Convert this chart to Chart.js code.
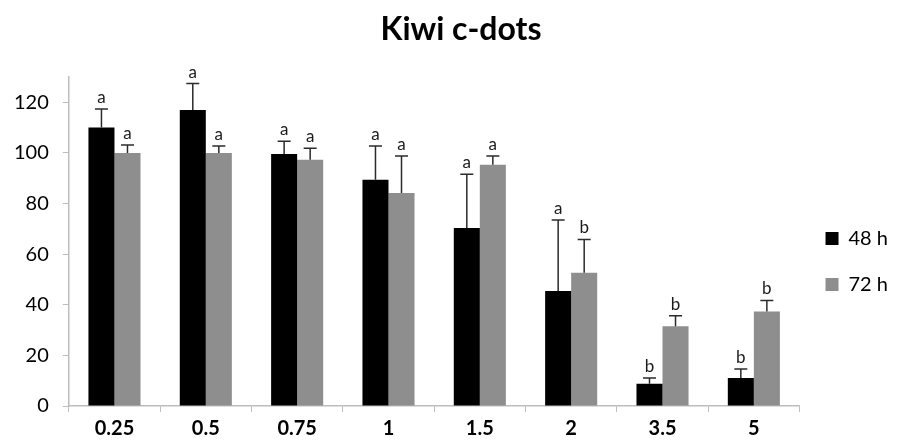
<!DOCTYPE html>
<html>
<head>
<meta charset="utf-8">
<script src="https://cdn.jsdelivr.net/npm/chart.js@4"></script>
<style>
  body { margin: 0; background: #fff; }
  #wrap { width: 898px; height: 446px; }
</style>
</head>
<body>
<div id="wrap"><canvas id="kiwi"></canvas></div>
<script>
// concentrations (x axis)
var doses = ["0.25", "0.5", "0.75", "1", "1.5", "2", "3.5", "5"];

// means
var h48 = [110, 117, 99.6, 89.4, 70.3, 45.4, 8.8, 11.1];
var h72 = [100, 100, 97.3, 84.2, 95.3, 52.7, 31.5, 37.3];

// upper error (sd)
var err48 = [7.4, 10.4, 5.0, 13.3, 21.3, 28.1, 2.3, 3.5];
var err72 = [3.1, 2.7, 4.5, 14.6, 3.5, 13.1, 4.2, 4.4];

// significance letters
var let48 = ["a", "a", "a", "a", "a", "a", "b", "b"];
var let72 = ["a", "a", "a", "a", "a", "b", "b", "b"];

var yTicks = [0, 20, 40, 60, 80, 100, 120];

var FONT = "Lato, 'Open Sans', sans-serif";

// error bars + letters
var errorBars = {
  id: "errorBars",
  afterDatasetsDraw: function (chart) {
    var ctx = chart.ctx;
    var y = chart.scales.y;
    var errs = [err48, err72];
    var lets = [let48, let72];
    ctx.save();
    for (var d = 0; d < 2; d++) {
      var meta = chart.getDatasetMeta(d);
      var vals = chart.data.datasets[d].data;
      meta.data.forEach(function (bar, i) {
        var x = bar.x;
        var top = y.getPixelForValue(vals[i]);
        var up = y.getPixelForValue(vals[i] + errs[d][i]);
        ctx.strokeStyle = "#2b2b2b";
        ctx.lineWidth = 1.5;
        ctx.beginPath();
        ctx.moveTo(x, top);
        ctx.lineTo(x, up);
        ctx.moveTo(x - 6.5, up);
        ctx.lineTo(x + 6.5, up);
        ctx.stroke();
        ctx.fillStyle = "#1a1a1a";
        ctx.font = "17px " + FONT;
        ctx.textAlign = "center";
        ctx.textBaseline = "bottom";
        ctx.fillText(lets[d][i], x, up - 3);
      });
    }
    ctx.restore();
  }
};

// title drawn a bit right of canvas centre like the original
var titlePlugin = {
  id: "titlePlugin",
  afterDraw: function (chart) {
    var ctx = chart.ctx;
    ctx.save();
    ctx.font = "bold 32px " + FONT;
    ctx.fillStyle = "#000";
    ctx.textAlign = "center";
    ctx.textBaseline = "middle";
    ctx.fillText("Kiwi c-dots", 461, 30);
    ctx.restore();
  }
};

var myChart = new Chart(document.getElementById("kiwi").getContext("2d"), {
  type: "bar",
  data: {
    labels: doses,
    datasets: [
      { label: "48 h", data: h48, backgroundColor: "#000000", borderWidth: 0 },
      { label: "72 h", data: h72, backgroundColor: "#8e8e8e", borderWidth: 0 }
    ]
  },
  options: {
    responsive: true,
    maintainAspectRatio: false,
    animation: false,
    layout: { padding: { top: 77, left: 0, right: 0, bottom: 0 } },
    datasets: { bar: { categoryPercentage: 0.57, barPercentage: 1 } },
    plugins: {
      title: { display: false },
      tooltip: { enabled: false },
      legend: {
        position: "right",
        labels: {
          font: { family: FONT, size: 20 },
          color: "#000",
          boxWidth: 13,
          boxHeight: 13,
          padding: 26
        }
      }
    },
    scales: {
      x: {
        grid: { display: true, drawOnChartArea: false, drawTicks: true, tickLength: 6, color: "#bdbdbd", offset: true },
        border: { color: "#bdbdbd", width: 1.5 },
        ticks: { font: { family: FONT, size: 20, weight: "bold" }, color: "#000", padding: 5 }
      },
      y: {
        min: 0,
        max: 130,
        afterBuildTicks: function (scale) {
          scale.ticks = yTicks.map(function (v) { return { value: v }; });
        },
        grid: { display: true, drawOnChartArea: false, drawTicks: true, tickLength: 6, color: "#bdbdbd" },
        border: { color: "#bdbdbd", width: 1.5 },
        ticks: { font: { family: FONT, size: 20 }, color: "#000", padding: 14 }
      }
    }
  },
  plugins: [errorBars, titlePlugin]
});
</script>
</body>
</html>
